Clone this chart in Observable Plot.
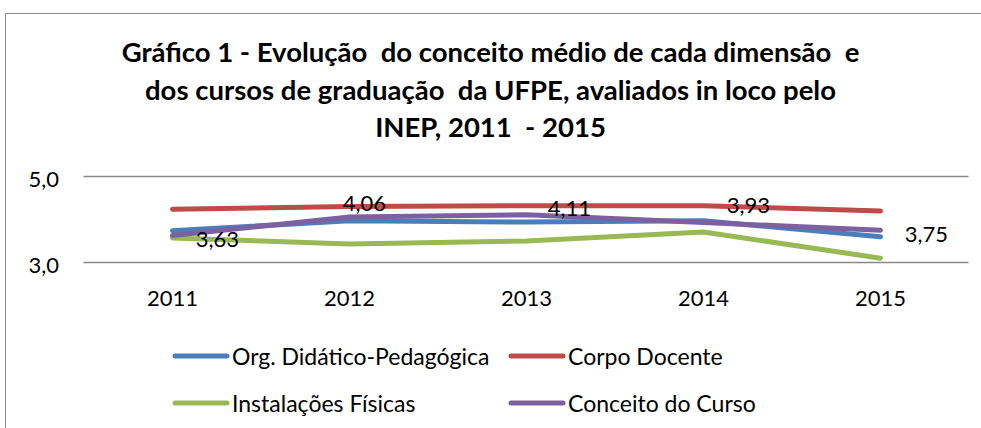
<!DOCTYPE html>
<html>
<head>
<meta charset="utf-8">
<script src="https://cdn.jsdelivr.net/npm/d3@7"></script>
<script src="https://cdn.jsdelivr.net/npm/@observablehq/plot@0.6"></script>
<style>
  html, body { margin: 0; padding: 0; background: #fff; }
  #wrap { position: relative; width: 981px; height: 428px; overflow: hidden; font-family: Lato, "Open Sans", sans-serif; color: #000; }
  #frame { position: absolute; left: 5px; top: 13px; width: 1100px; height: 600px; border: 1.5px solid #8a8a8a; box-sizing: border-box; }
  #title { position: absolute; left: 0; top: 33px; width: 981px; text-align: center; font-weight: bold; font-size: 27.5px; line-height: 37.5px; white-space: pre; }
  #chart { position: absolute; left: 0; top: 160px; }
  #legend { position: absolute; left: 172px; top: 332px; display: grid; grid-template-columns: 336px auto; grid-auto-rows: 47px; align-items: center; font-size: 23px; }
  .item { display: flex; align-items: center; white-space: pre; }
  .item svg { margin-right: 2px; }
</style>
</head>
<body>
<div id="wrap">
  <div id="frame"></div>
  <div id="title"></div>
  <div id="chart"></div>
  <div id="legend"></div>
</div>
<script>
// ---- data ----
const titleLines = [
  "Gráfico 1 - Evolução  do conceito médio de cada dimensão  e",
  "dos cursos de graduação  da UFPE, avaliados in loco pelo",
  "INEP, 2011  - 2015"
];
const years = ["2011", "2012", "2013", "2014", "2015"];
const seriesNames = ["Org. Didático-Pedagógica", "Corpo Docente", "Instalações Físicas", "Conceito do Curso"];
const orgDidatico = [3.74, 3.97, 3.94, 3.97, 3.60];
const corpoDocente = [4.24, 4.30, 4.32, 4.32, 4.20];
const instalacoes = [3.57, 3.43, 3.50, 3.71, 3.10];
const conceitoCurso = [3.63, 4.06, 4.11, 3.93, 3.75];
const yTicks = [3, 5];

// ---- styles ----
const colors = ["#4A7EBB", "#BE4B48", "#98B954", "#7D60A0"];
const labelOffsets = [[45, 5], [15, -13], [43, -6], [45, -17], [46, 5]];

const seriesValues = [orgDidatico, corpoDocente, instalacoes, conceitoCurso];
const table = seriesValues.flatMap((vals, s) => years.map((yr, i) => ({series: seriesNames[s], year: yr, value: vals[i]})));
const fmt = v => v.toFixed(1).replace(".", ",");
const fmt2 = v => v.toFixed(2).replace(".", ",");

document.getElementById("title").textContent = titleLines.join("\n");

const lineMarks = seriesNames.map((name, s) =>
  Plot.line(table.filter(d => d.series === name), {
    x: "year", y: "value", stroke: colors[s], strokeWidth: 5,
    strokeLinecap: "round", strokeLinejoin: "round"
  })
);

const cursoRows = table.filter(d => d.series === seriesNames[3]);
const labelMarks = cursoRows.map((d, i) =>
  Plot.text([d], {
    x: "year", y: "value", text: r => fmt2(r.value),
    dx: labelOffsets[i][0], dy: labelOffsets[i][1],
    fontSize: 22, fill: "#000"
  })
);

const chart = Plot.plot({
  width: 981,
  height: 160,
  marginTop: 16,
  marginBottom: 58,
  marginLeft: 83.5,
  marginRight: 12.5,
  x: {type: "point", domain: years, padding: 0.5},
  y: {domain: [3, 5]},
  style: {fontFamily: "Lato, 'Open Sans', sans-serif", fontSize: "22px", color: "#000", background: "transparent", overflow: "visible"},
  marks: [
    Plot.ruleY(yTicks, {stroke: "#888", strokeWidth: 1.3}),
    Plot.axisY({ticks: yTicks, tickSize: 0, tickPadding: 25, tickFormat: fmt, label: null, fontSize: 22, dy: 3}),
    Plot.axisX({tickSize: 0, tickPadding: 28, label: null, fontSize: 22}),
    ...lineMarks,
    ...labelMarks
  ]
});
document.getElementById("chart").appendChild(chart);

// ---- legend ----
const legend = document.getElementById("legend");
const order = [0, 1, 2, 3];
order.forEach(s => {
  const item = document.createElement("div");
  item.className = "item";
  item.innerHTML = `<svg width="58" height="10"><line x1="3" y1="5" x2="55" y2="5" stroke="${colors[s]}" stroke-width="5" stroke-linecap="round"/></svg><span>${seriesNames[s]}</span>`;
  legend.appendChild(item);
});
</script>
</body>
</html>
